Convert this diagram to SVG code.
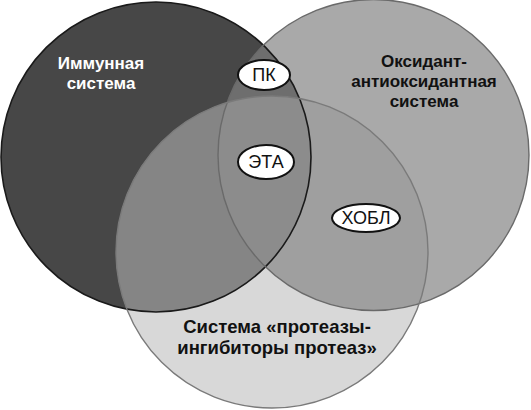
<svg xmlns="http://www.w3.org/2000/svg" width="531" height="410" viewBox="0 0 531 410">
<style>
.lbl{font-family:"Liberation Sans",Arial,sans-serif;font-weight:bold;font-size:17px;text-anchor:middle}
.big{font-size:18.5px}
.tag{font-family:"Liberation Sans",Arial,sans-serif;font-size:18px;text-anchor:middle;fill:#111}
.oval{fill:#fff;stroke:#111;stroke-width:2}
</style>
<defs>
<clipPath id="cA"><circle cx="156" cy="157" r="155"/></clipPath>
<clipPath id="cB"><circle cx="373.5" cy="155" r="155.5"/></clipPath>
</defs>
<rect width="531" height="410" fill="#fff"/>
<g id="immune"><circle cx="156" cy="157" r="155" fill="#474747"/></g>
<g id="oxidant"><circle cx="373.5" cy="155" r="155.5" fill="#a9a9a9"/></g>
<g id="protease"><circle cx="272" cy="252" r="156" fill="#d8d8d8"/></g>
<g id="overlaps">
<circle cx="373.5" cy="155" r="155.5" fill="#6e6e6e" clip-path="url(#cA)"/>
<circle cx="272" cy="252" r="156" fill="#858585" clip-path="url(#cA)"/>
<circle cx="272" cy="252" r="156" fill="#9f9f9f" clip-path="url(#cB)"/>
<g clip-path="url(#cB)"><circle cx="272" cy="252" r="156" fill="#8c8c8c" clip-path="url(#cA)"/></g>
</g>
<g id="outlines" fill="none">
<circle cx="156" cy="157" r="155" stroke="#1a1a1a" stroke-width="1.6"/>
<circle cx="373.5" cy="155" r="155.5" stroke="#6a6a6a" stroke-width="1.4"/>
<circle cx="272" cy="252" r="156" stroke="#7a7a7a" stroke-width="1.4"/>
</g>
<g id="labels">
<text class="lbl" fill="#fff" x="101" y="69">Иммунная</text>
<text class="lbl" fill="#fff" x="101" y="89">система</text>
<text class="lbl" fill="#111" x="424" y="67">Оксидант-</text>
<text class="lbl" fill="#111" x="424" y="87">антиоксидантная</text>
<text class="lbl" fill="#111" x="424" y="107">система</text>
<text class="lbl big" fill="#111" x="277" y="333">Система «протеазы-</text>
<text class="lbl big" fill="#111" x="277" y="354">ингибиторы протеаз»</text>
</g>
<g id="pk"><ellipse class="oval" cx="264" cy="75" rx="26" ry="15"/><text class="tag" x="264" y="81">ПК</text></g>
<g id="eta"><ellipse class="oval" cx="266" cy="162" rx="28" ry="17"/><text class="tag" x="266" y="168">ЭТА</text></g>
<g id="copd"><ellipse class="oval" cx="366" cy="218" rx="34" ry="14"/><text class="tag" x="366" y="224">ХОБЛ</text></g>
</svg>
